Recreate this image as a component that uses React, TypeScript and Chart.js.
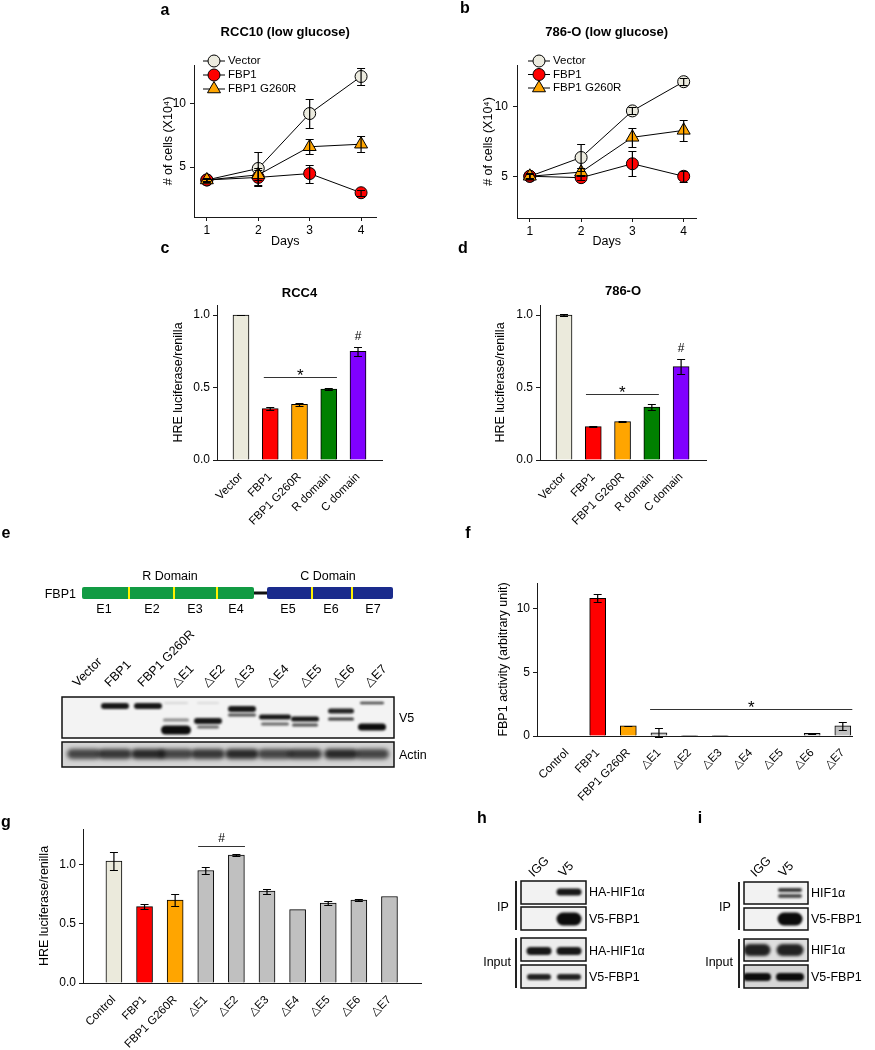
import React, { useEffect, useRef } from 'react';
import { Chart, registerables } from 'chart.js';

Chart.register(...registerables);

const FONT = "'Liberation Sans', Arial, Helvetica, sans-serif";
const AXIS = '#1a1a1a';

// ================= DATA =================
// a / b : cell growth
const growthDays = [1, 2, 3, 4];
const growthNames = ['Vector', 'FBP1', 'FBP1 G260R'];
const growthFill = ['#ecebdf', '#ff0000', '#ffa500'];
const growthMarker = ['circle', 'circle', 'triangle'];
const growthTicksY = [5, 10];

const rcc10Vector = [4.0, 4.9, 9.2, 12.1];
const rcc10VectorErr = [0.15, 1.3, 1.1, 0.7];
const rcc10Fbp1 = [4.0, 4.2, 4.5, 3.0];
const rcc10Fbp1Err = [0.1, 0.7, 0.7, 0.25];
const rcc10G260R = [4.0, 4.4, 6.6, 6.8];
const rcc10G260RErr = [0.1, 0.4, 0.6, 0.65];

const o786Vector = [5.0, 6.35, 9.7, 11.8];
const o786VectorErr = [0.15, 1.0, 0.25, 0.25];
const o786Fbp1 = [5.0, 4.9, 5.9, 5.0];
const o786Fbp1Err = [0.15, 0.2, 0.9, 0.4];
const o786G260R = [5.0, 5.3, 7.8, 8.3];
const o786G260RErr = [0.2, 0.3, 0.7, 0.75];

// c / d : HRE luciferase, domains
const domainLabels = ['Vector', 'FBP1', 'FBP1 G260R', 'R domain', 'C domain'];
const domainColors = ['#ebeadc', '#ff0000', '#ffa500', '#008000', '#8000ff'];
const rcc4Hre = [1.0, 0.355, 0.385, 0.49, 0.75];
const rcc4HreErr = [0.002, 0.008, 0.01, 0.005, 0.03];
const o786Hre = [1.0, 0.23, 0.265, 0.365, 0.645];
const o786HreErr = [0.005, 0.004, 0.006, 0.022, 0.05];
const hreTicks = [0, 0.5, 1.0];

// f / g : exon deletions
const exonLabels = ['Control', 'FBP1', 'FBP1 G260R', '△E1', '△E2', '△E3', '△E4', '△E5', '△E6', '△E7'];
const exonColors = ['#ebeadc', '#ff0000', '#ffa500', '#c0c0c0', '#c0c0c0', '#c0c0c0', '#c0c0c0', '#c0c0c0', '#c0c0c0', '#c0c0c0'];
const fbpActivity = [0, 10.8, 0.8, 0.25, 0.05, 0.05, 0, 0, 0.2, 0.8];
const fbpActivityErr = [0, 0.3, 0.02, 0.35, 0, 0, 0, 0, 0.03, 0.3];
const activityTicks = [0, 5, 10];
const exonHre = [1.03, 0.645, 0.7, 0.95, 1.08, 0.775, 0.62, 0.675, 0.7, 0.73];
const exonHreErr = [0.075, 0.02, 0.05, 0.03, 0.006, 0.02, 0, 0.02, 0.01, 0];

// ================= PLUGINS =================
const errorBarsPlugin: any = {
  id: 'errorBars',
  afterDatasetsDraw(chart: any, _a: any, opts: any) {
    const { ctx } = chart;
    const ys = chart.scales.y;
    chart.data.datasets.forEach((ds: any, i: number) => {
      const errs = ds.errors;
      if (!errs) return;
      const meta = chart.getDatasetMeta(i);
      meta.data.forEach((el: any, j: number) => {
        const e = errs[j];
        if (!e || e <= 0) return;
        const v = meta.controller.getParsed(j).y;
        const x = el.x;
        const yt = Math.round(ys.getPixelForValue(v + e)) + 0.5;
        const yb = Math.round(ys.getPixelForValue(v - e)) + 0.5;
        const cap = opts.cap ?? 4;
        ctx.save();
        ctx.strokeStyle = '#000';
        ctx.lineWidth = 1.2;
        ctx.beginPath();
        ctx.moveTo(x, yt);
        ctx.lineTo(x, yb);
        ctx.moveTo(x - cap, yt);
        ctx.lineTo(x + cap, yt);
        ctx.moveTo(x - cap, yb);
        ctx.lineTo(x + cap, yb);
        ctx.stroke();
        ctx.restore();
      });
    });
  },
};

function drawMarker(ctx: any, style: string, x: number, y: number, r: number, fill: string) {
  ctx.beginPath();
  if (style === 'triangle') {
    let rad = 0;
    ctx.moveTo(x + Math.sin(rad) * r, y - Math.cos(rad) * r);
    rad += (2 * Math.PI) / 3;
    ctx.lineTo(x + Math.sin(rad) * r, y - Math.cos(rad) * r);
    rad += (2 * Math.PI) / 3;
    ctx.lineTo(x + Math.sin(rad) * r, y - Math.cos(rad) * r);
    ctx.closePath();
  } else {
    ctx.arc(x, y, r, 0, Math.PI * 2);
  }
  ctx.fillStyle = fill;
  ctx.fill();
  ctx.strokeStyle = '#000';
  ctx.lineWidth = 1;
  ctx.stroke();
}

const insideLegendPlugin: any = {
  id: 'insideLegend',
  afterDraw(chart: any, _a: any, opts: any) {
    const { ctx } = chart;
    chart.data.datasets.forEach((ds: any, i: number) => {
      const y = opts.y + i * opts.rowH;
      ctx.save();
      ctx.strokeStyle = '#000';
      ctx.lineWidth = 1;
      ctx.beginPath();
      ctx.moveTo(opts.x, y);
      ctx.lineTo(opts.x + opts.len, y);
      ctx.stroke();
      drawMarker(ctx, ds.pointStyle, opts.x + opts.len / 2, y, ds.pointRadius, ds.pointBackgroundColor);
      ctx.fillStyle = '#000';
      ctx.font = `11.5px ${FONT}`;
      ctx.textBaseline = 'middle';
      ctx.textAlign = 'left';
      ctx.fillText(ds.label, opts.x + opts.len + 3, y);
      ctx.restore();
    });
  },
};

const sigPlugin: any = {
  id: 'sigMarks',
  afterDatasetsDraw(chart: any, _a: any, opts: any) {
    const { ctx } = chart;
    const xs = chart.scales.x;
    const ys = chart.scales.y;
    ctx.save();
    ctx.fillStyle = '#000';
    ctx.textAlign = 'center';
    ctx.textBaseline = 'alphabetic';
    (opts.lines || []).forEach((l: any) => {
      const x1 = xs.getPixelForValue(l.from);
      const x2 = xs.getPixelForValue(l.to);
      const y = Math.round(ys.getPixelForValue(l.y)) + 0.5;
      ctx.strokeStyle = '#333';
      ctx.lineWidth = 1.2;
      ctx.beginPath();
      ctx.moveTo(x1, y);
      ctx.lineTo(x2, y);
      ctx.stroke();
      if (l.text === '*') {
        ctx.font = `17px ${FONT}`;
        ctx.fillText('*', (x1 + x2) / 2, y + 3);
      } else {
        ctx.font = `12px ${FONT}`;
        ctx.fillText(l.text, (x1 + x2) / 2, y - 5);
      }
    });
    const ds = chart.data.datasets[0];
    (opts.hashes || []).forEach((idx: number) => {
      const v = ds.data[idx].y + (ds.errors ? ds.errors[idx] : 0);
      const px = xs.getPixelForValue(idx);
      const py = ys.getPixelForValue(v);
      ctx.font = `12px ${FONT}`;
      ctx.fillText('#', px, py - 7);
    });
    ctx.restore();
  },
};

// ================= CONFIG BUILDERS =================
type Box = { x: number; y: number; w: number; h: number };
type Area = { l: number; t: number; r: number; b: number };

const tickFont = { family: FONT, size: 12 };
const catTickFont = { family: FONT, size: 11.5 };
const axisTitleFont = { family: FONT, size: 12.5 };
const titleFont = { family: FONT, size: 13, weight: 'bold' as const };

function frame(box: Box, area: Area) {
  return {
    yW: area.l - box.x,
    xH: box.y + box.h - area.b,
    padR: box.x + box.w - area.r,
    padT: area.t - box.y,
  };
}

function yScaleOpts(s: any, f: any) {
  return {
    type: 'linear',
    min: s.yMin,
    max: s.yMax,
    afterBuildTicks: (sc: any) => {
      sc.ticks = s.yTicks.map((v: number) => ({ value: v }));
    },
    afterFit: (sc: any) => {
      sc.width = f.yW;
    },
    ticks: { font: tickFont, color: '#000', padding: s.yTickPad ?? 3, callback: s.yFmt },
    grid: { drawOnChartArea: false, drawTicks: true, tickLength: 4, color: AXIS },
    border: { display: true, color: AXIS, width: 1 },
    title: {
      display: true,
      text: s.yTitle,
      font: axisTitleFont,
      color: '#000',
      padding: { top: s.yTitleX - s.box.x - 7.5, bottom: 0 },
    },
  };
}

function lineConfig(s: any) {
  const f = frame(s.box, s.area);
  return {
    type: 'line',
    data: {
      datasets: growthNames.map((name, i) => ({
        label: name,
        data: growthDays.map((d, j) => ({ x: d, y: s.series[i][j] })),
        errors: s.errors[i],
        borderColor: '#000',
        borderWidth: 1,
        pointStyle: growthMarker[i],
        pointRadius: growthMarker[i] === 'triangle' ? 7.5 : 6,
        pointBackgroundColor: growthFill[i],
        pointBorderColor: '#000',
        pointBorderWidth: 1,
        order: 3 - i,
        tension: 0,
        fill: false,
      })),
    },
    options: {
      responsive: false,
      animation: false,
      events: [],
      layout: { padding: { left: 0, top: 0, right: f.padR, bottom: 0 } },
      plugins: {
        legend: { display: false },
        tooltip: { enabled: false },
        title: {
          display: true,
          text: s.title,
          fullSize: false,
          font: titleFont,
          color: '#000',
          padding: { top: s.titleY - s.box.y - 7.8, bottom: s.area.t - s.titleY - 7.8 },
        },
        errorBars: { cap: 4 },
        insideLegend: s.legend,
      },
      scales: {
        x: {
          type: 'linear',
          min: s.xMin,
          max: s.xMax,
          afterBuildTicks: (sc: any) => {
            sc.ticks = growthDays.map((v) => ({ value: v }));
          },
          afterFit: (sc: any) => {
            sc.height = f.xH;
          },
          ticks: { font: tickFont, color: '#000', padding: 2, callback: (v: any) => String(v) },
          grid: { drawOnChartArea: false, drawTicks: true, tickLength: 4, color: AXIS },
          border: { display: true, color: AXIS, width: 1 },
          title: {
            display: true,
            text: 'Days',
            font: axisTitleFont,
            color: '#000',
            padding: { top: 0, bottom: s.box.y + s.box.h - s.xTitleY - 7.5 },
          },
        },
        y: yScaleOpts(s, f),
      },
    },
    plugins: [errorBarsPlugin, insideLegendPlugin],
  };
}

function barConfig(s: any) {
  const f = frame(s.box, s.area);
  const hasTitle = !!s.title;
  return {
    type: 'bar',
    data: {
      datasets: [
        {
          data: s.values.map((v: number, i: number) => ({ x: i, y: v })),
          errors: s.errors,
          backgroundColor: s.colors,
          borderColor: '#000',
          borderWidth: 1,
          borderSkipped: 'bottom',
          barThickness: 16,
        },
      ],
    },
    options: {
      responsive: false,
      animation: false,
      events: [],
      layout: { padding: { left: 0, top: hasTitle ? 0 : f.padT, right: f.padR, bottom: 0 } },
      plugins: {
        legend: { display: false },
        tooltip: { enabled: false },
        title: hasTitle
          ? {
              display: true,
              text: s.title,
              fullSize: false,
              font: titleFont,
              color: '#000',
              padding: { top: s.titleY - s.box.y - 7.8, bottom: s.area.t - s.titleY - 7.8 },
            }
          : { display: false },
        errorBars: { cap: 4 },
        sigMarks: { lines: s.sigLines || [], hashes: s.hashes || [] },
      },
      scales: {
        x: {
          type: 'linear',
          min: s.xMin,
          max: s.xMax,
          offset: false,
          afterBuildTicks: (sc: any) => {
            sc.ticks = s.labels.map((_: string, i: number) => ({ value: i }));
          },
          afterFit: (sc: any) => {
            sc.height = f.xH;
          },
          ticks: {
            font: catTickFont,
            color: '#000',
            padding: 2,
            autoSkip: false,
            minRotation: 45,
            maxRotation: 45,
            callback: (v: any) => s.labels[Math.round(v)] ?? '',
          },
          grid: { display: false, offset: false },
          border: { display: true, color: AXIS, width: 1 },
        },
        y: yScaleOpts(s, f),
      },
    },
    plugins: [errorBarsPlugin, sigPlugin],
  };
}

// ================= COMPONENTS =================
function ChartCanvas({ box, config }: { box: Box; config: () => any }) {
  const ref = useRef<HTMLCanvasElement>(null);
  useEffect(() => {
    const chart = new Chart(ref.current as HTMLCanvasElement, config());
    return () => chart.destroy();
  }, []);
  return (
    <canvas
      ref={ref}
      width={box.w}
      height={box.h}
      style={{ position: 'absolute', left: box.x, top: box.y, width: box.w, height: box.h }}
    />
  );
}

function band(ctx: any, cx: number, cy: number, w: number, h: number, a: number, blur = 1.1) {
  ctx.save();
  ctx.filter = `blur(${blur}px)`;
  ctx.fillStyle = `rgba(12,12,12,${a})`;
  ctx.beginPath();
  ctx.roundRect(cx - w / 2, cy - h / 2, w, h, h / 2);
  ctx.fill();
  ctx.restore();
}

function blotBox(ctx: any, x1: number, y1: number, x2: number, y2: number, bg: string, bands: number[][], blur = 1.1) {
  ctx.save();
  ctx.beginPath();
  ctx.rect(x1, y1, x2 - x1, y2 - y1);
  ctx.clip();
  ctx.fillStyle = bg;
  ctx.fillRect(x1, y1, x2 - x1, y2 - y1);
  bands.forEach((b) => band(ctx, b[0], b[1], b[2], b[3], b[4], b[5] ?? blur));
  ctx.restore();
  ctx.strokeStyle = '#111';
  ctx.lineWidth = 1.5;
  ctx.strokeRect(x1, y1, x2 - x1, y2 - y1);
}

function drawArt(ctx: any) {
  // Domain schematic (panel e)
  ctx.fillStyle = '#119b43';
  ctx.beginPath();
  ctx.roundRect(82, 587, 172, 12, 2);
  ctx.fill();
  ctx.fillStyle = '#111';
  ctx.fillRect(254, 591.5, 14, 3);
  ctx.fillStyle = '#1a2b8c';
  ctx.beginPath();
  ctx.roundRect(267, 587, 126, 12, 2);
  ctx.fill();
  ctx.fillStyle = '#fff200';
  [129, 174, 217, 312, 352].forEach((x) => ctx.fillRect(x - 1, 587, 2, 12));

  // V5 blot
  blotBox(ctx, 62, 697, 394, 738, '#f3f3f3', [
    [115, 706, 28, 6, 0.95],
    [148, 706, 28, 6, 0.95],
    [176, 703, 24, 2, 0.12],
    [176, 720, 26, 3, 0.45],
    [176, 730, 30, 9, 1.0],
    [208, 703, 22, 2, 0.1],
    [208, 721, 28, 6, 0.95],
    [208, 727, 22, 3, 0.6],
    [242, 709, 28, 6, 0.95],
    [242, 715, 28, 3, 0.7],
    [275, 717, 32, 5, 0.95],
    [275, 724, 28, 3, 0.6],
    [305, 719, 28, 5, 0.95],
    [305, 725, 26, 3, 0.7],
    [341, 711, 26, 5, 0.9],
    [341, 719, 26, 3, 0.8],
    [372, 703, 24, 2.5, 0.75],
    [372, 727, 28, 7, 1.0],
  ]);
  // Actin blot
  const actinLanes = [84, 115, 148, 176, 208, 242, 275, 305, 341, 372];
  blotBox(
    ctx,
    62,
    742,
    394,
    767,
    '#d4d4d4',
    actinLanes.map((x, i) => [x, 754, 34, 10, 0.72 + (i % 3) * 0.07, 2]),
  );

  // Panel h
  blotBox(ctx, 521, 881, 586, 904, '#f2f2f2', [[569, 892, 25, 7, 0.95]]);
  blotBox(ctx, 521, 907, 586, 930, '#f2f2f2', [[569, 919, 25, 13, 1.0]]);
  blotBox(ctx, 521, 938, 586, 961, '#ececec', [
    [539, 951, 25, 8, 0.95],
    [569, 951, 25, 8, 0.95],
  ]);
  blotBox(ctx, 521, 965, 586, 988, '#ececec', [
    [539, 977, 24, 6, 0.9],
    [569, 977, 24, 6, 0.9],
  ]);
  // Panel i
  blotBox(ctx, 744, 882, 808, 904, '#f2f2f2', [
    [790, 890, 24, 4, 0.8],
    [790, 896, 24, 4, 0.7],
  ]);
  blotBox(ctx, 744, 908, 808, 930, '#f2f2f2', [[790, 919, 25, 13, 1.0]]);
  blotBox(ctx, 744, 939, 808, 961, '#dedede', [
    [757, 950, 27, 12, 0.9, 1.6],
    [790, 950, 27, 12, 0.9, 1.6],
  ]);
  blotBox(ctx, 744, 965, 808, 988, '#d6d6d6', [
    [757, 977, 28, 8, 1.0],
    [790, 977, 28, 8, 1.0],
  ]);

  // IP / Input brackets
  ctx.fillStyle = '#222';
  ctx.fillRect(515, 881, 2, 49);
  ctx.fillRect(515, 938, 2, 50);
  ctx.fillRect(738, 882, 2, 48);
  ctx.fillRect(738, 939, 2, 49);
}

function Art() {
  const ref = useRef<HTMLCanvasElement>(null);
  useEffect(() => {
    const ctx = (ref.current as HTMLCanvasElement).getContext('2d');
    if (ctx) drawArt(ctx);
  }, []);
  return (
    <canvas
      ref={ref}
      width={875}
      height={1050}
      style={{ position: 'absolute', left: 0, top: 0, width: 875, height: 1050, pointerEvents: 'none' }}
    />
  );
}

function Label({ x, y, text, size = 12.5, bold = false, align = 'left', rotate = 0 }: any) {
  const tx = align === 'left' ? '0%' : align === 'center' ? '-50%' : '-100%';
  const origin = align === 'left' ? '0% 50%' : align === 'center' ? '50% 50%' : '100% 50%';
  return (
    <div
      style={{
        position: 'absolute',
        left: x,
        top: y,
        whiteSpace: 'nowrap',
        fontFamily: FONT,
        fontSize: size,
        fontWeight: bold ? 700 : 400,
        lineHeight: 1.2,
        color: '#000',
        transform: `translate(${tx}, -50%)${rotate ? ` rotate(${rotate}deg)` : ''}`,
        transformOrigin: origin,
      }}
    >
      {text}
    </div>
  );
}

// ================= LAYOUT =================
const boxA: Box = { x: 140, y: 15, w: 245, h: 245 };
const boxB: Box = { x: 460, y: 15, w: 245, h: 245 };
const boxC: Box = { x: 110, y: 270, w: 280, h: 264 };
const boxD: Box = { x: 430, y: 270, w: 282, h: 264 };
const boxF: Box = { x: 440, y: 560, w: 420, h: 260 };
const boxG: Box = { x: 0, y: 810, w: 430, h: 240 };

const cfgA = () =>
  lineConfig({
    box: boxA,
    area: { l: 194, t: 65, r: 378, b: 217 },
    title: 'RCC10 (low glucose)',
    titleY: 32,
    yTitle: '# of cells (X10⁴)',
    yTitleX: 169,
    yTickPad: 4,
    xTitleY: 242,
    xMin: 0.75,
    xMax: 4.3,
    yMin: 1.1,
    yMax: 13,
    yTicks: growthTicksY,
    yFmt: (v: any) => String(v),
    series: [rcc10Vector, rcc10Fbp1, rcc10G260R],
    errors: [rcc10VectorErr, rcc10Fbp1Err, rcc10G260RErr],
    legend: { x: 63, y: 46, rowH: 14, len: 22 },
  });

const cfgB = () =>
  lineConfig({
    box: boxB,
    area: { l: 517, t: 65, r: 698, b: 218 },
    title: '786-O (low glucose)',
    titleY: 32,
    yTitle: '# of cells (X10⁴)',
    yTitleX: 489,
    yTickPad: 5,
    xTitleY: 242,
    xMin: 0.75,
    xMax: 4.25,
    yMin: 2,
    yMax: 13,
    yTicks: growthTicksY,
    yFmt: (v: any) => String(v),
    series: [o786Vector, o786Fbp1, o786G260R],
    errors: [o786VectorErr, o786Fbp1Err, o786G260RErr],
    legend: { x: 68, y: 46, rowH: 13.5, len: 22 },
  });

const cfgC = () =>
  barConfig({
    box: boxC,
    area: { l: 217, t: 305, r: 382, b: 460 },
    title: 'RCC4',
    titleY: 293,
    yTitle: 'HRE luciferase/renilla',
    yTitleX: 179,
    labels: domainLabels,
    colors: domainColors,
    values: rcc4Hre,
    errors: rcc4HreErr,
    xMin: -0.82,
    xMax: 4.82,
    yMin: 0,
    yMax: 1.07,
    yTicks: hreTicks,
    yFmt: (v: any) => Number(v).toFixed(1),
    sigLines: [{ from: 0.78, to: 3.28, y: 0.57, text: '*' }],
    hashes: [4],
  });

const cfgD = () =>
  barConfig({
    box: boxD,
    area: { l: 540, t: 305, r: 706, b: 460 },
    title: '786-O',
    titleY: 291,
    yTitle: 'HRE luciferase/renilla',
    yTitleX: 501,
    labels: domainLabels,
    colors: domainColors,
    values: o786Hre,
    errors: o786HreErr,
    xMin: -0.82,
    xMax: 4.85,
    yMin: 0,
    yMax: 1.07,
    yTicks: hreTicks,
    yFmt: (v: any) => Number(v).toFixed(1),
    sigLines: [{ from: 0.75, to: 3.24, y: 0.455, text: '*' }],
    hashes: [4],
  });

const cfgF = () =>
  barConfig({
    box: boxF,
    area: { l: 537, t: 583, r: 852, b: 736 },
    yTitle: 'FBP1 activity (arbitrary unit)',
    yTitleX: 504,
    labels: exonLabels,
    colors: exonColors,
    values: fbpActivity,
    errors: fbpActivityErr,
    xMin: -0.98,
    xMax: 9.3,
    yMin: 0,
    yMax: 12,
    yTicks: activityTicks,
    yFmt: (v: any) => String(v),
    sigLines: [{ from: 2.71, to: 9.31, y: 2.1, text: '*' }],
  });

const cfgG = () =>
  barConfig({
    box: boxG,
    area: { l: 83, t: 829, r: 421, b: 983 },
    yTitle: 'HRE luciferase/renilla',
    yTitleX: 45,
    labels: exonLabels,
    colors: exonColors,
    values: exonHre,
    errors: exonHreErr,
    xMin: -1.01,
    xMax: 10.03,
    yMin: 0,
    yMax: 1.3,
    yTicks: hreTicks,
    yFmt: (v: any) => Number(v).toFixed(1),
    sigLines: [{ from: 2.75, to: 4.28, y: 1.16, text: '#' }],
  });

const blotLaneLabels = ['Vector', 'FBP1', 'FBP1 G260R', '△E1', '△E2', '△E3', '△E4', '△E5', '△E6', '△E7'];
const blotLaneX = [75, 107, 140, 174, 205, 235, 269, 302, 335, 367];
const exonNames = ['E1', 'E2', 'E3', 'E4', 'E5', 'E6', 'E7'];
const exonX = [104, 152, 195, 236, 288, 331, 373];

export default function App() {
  return (
    <div
      style={{
        position: 'absolute',
        left: 0,
        top: 0,
        width: 875,
        height: 1050,
        background: '#fff',
        overflow: 'hidden',
      }}
    >
      <ChartCanvas box={boxA} config={cfgA} />
      <ChartCanvas box={boxB} config={cfgB} />
      <ChartCanvas box={boxC} config={cfgC} />
      <ChartCanvas box={boxD} config={cfgD} />
      <ChartCanvas box={boxF} config={cfgF} />
      <ChartCanvas box={boxG} config={cfgG} />
      <Art />

      {/* panel letters */}
      <Label x={165} y={10} text="a" size={16} bold align="center" />
      <Label x={465} y={8} text="b" size={16} bold align="center" />
      <Label x={165} y={248} text="c" size={16} bold align="center" />
      <Label x={463} y={248} text="d" size={16} bold align="center" />
      <Label x={6} y={533} text="e" size={16} bold align="center" />
      <Label x={468} y={533} text="f" size={16} bold align="center" />
      <Label x={6} y={822} text="g" size={16} bold align="center" />
      <Label x={482} y={818} text="h" size={16} bold align="center" />
      <Label x={700} y={818} text="i" size={16} bold align="center" />

      {/* panel e schematic */}
      <Label x={170} y={576} text="R Domain" align="center" />
      <Label x={328} y={576} text="C Domain" align="center" />
      <Label x={76} y={594} text="FBP1" align="right" />
      {exonNames.map((n, i) => (
        <Label key={n} x={exonX[i]} y={609} text={n} align="center" />
      ))}
      {blotLaneLabels.map((n, i) => (
        <Label key={n} x={blotLaneX[i]} y={685} text={n} rotate={-45} size={12.5} />
      ))}
      <Label x={399} y={718} text="V5" />
      <Label x={399} y={755} text="Actin" />

      {/* panel h */}
      <Label x={531} y={875} text="IGG" rotate={-45} size={12.5} />
      <Label x={561} y={875} text="V5" rotate={-45} size={12.5} />
      <Label x={589} y={892} text="HA-HIF1α" />
      <Label x={589} y={919} text="V5-FBP1" />
      <Label x={589} y={951} text="HA-HIF1α" />
      <Label x={589} y={977} text="V5-FBP1" />
      <Label x={503} y={907} text="IP" align="center" />
      <Label x={511} y={962} text="Input" align="right" />

      {/* panel i */}
      <Label x={753} y={875} text="IGG" rotate={-45} size={12.5} />
      <Label x={781} y={875} text="V5" rotate={-45} size={12.5} />
      <Label x={811} y={893} text="HIF1α" />
      <Label x={811} y={919} text="V5-FBP1" />
      <Label x={811} y={950} text="HIF1α" />
      <Label x={811} y={977} text="V5-FBP1" />
      <Label x={725} y={907} text="IP" align="center" />
      <Label x={733} y={962} text="Input" align="right" />
    </div>
  );
}
